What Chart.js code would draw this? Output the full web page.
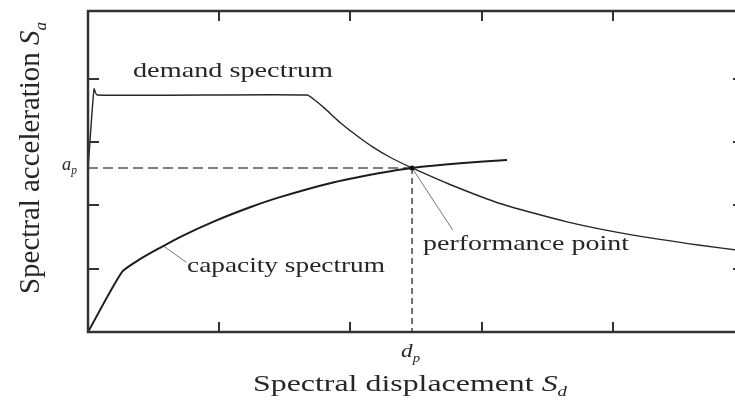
<!DOCTYPE html>
<html lang="en">
  <head>
    <meta charset="UTF-8" />
    <title>Capacity spectrum method</title>
    <style>
      html,
      body {
        margin: 0;
        padding: 0;
        background: #fff;
        overflow: hidden;
        width: 735px;
        height: 403px;
      }
      canvas {
        display: block;
      }
    </style>
    <script src="https://cdn.jsdelivr.net/npm/chart.js"></script>
  </head>
  <body>
    <canvas id="csm" width="760" height="403"></canvas>
    <script>
      // demand spectrum (Sd, Sa)
      const demandSd = [0, 0.046, 0.069, 1.669, 1.73, 1.80, 1.921, 2.05, 2.172, 2.302, 2.47, 2.759, 3.14, 3.651, 4.154, 4.665, 5.0];
      const demandSa = [2.56, 3.84, 3.744, 3.744, 3.66, 3.54, 3.31, 3.10, 2.92, 2.76, 2.591, 2.33, 2.03, 1.74, 1.53, 1.37, 1.28];

      // capacity spectrum
      const capacitySd = [0, 0.259, 0.396, 0.549, 0.701, 0.953, 1.235, 1.463, 1.845, 2.226, 2.47, 2.835, 3.194];
      const capacitySa = [0, 0.948, 1.15, 1.33, 1.5, 1.74, 1.97, 2.13, 2.35, 2.51, 2.591, 2.665, 2.717];

      // performance point (dp, ap)
      const perfPoint = [2.47, 2.591];

      // label leader lines [from, to]
      const capacityLeader = [[0.58, 1.35], [0.75, 1.10]];
      const perfLeader = [[2.48, 2.56], [2.78, 1.61]];

      const xTicks = [1, 2, 3, 4];
      const yTicks = [1, 2, 3, 4];

      const toPts = (xs, ys) => xs.map((x, i) => ({ x: x, y: ys[i] }));
      const ink = "#262626";
      const serif = '"Liberation Serif", "Times New Roman", serif';

      // draw text stretched to a given width (and optional height factor)
      function drawText(ctx, parts, x, y, width, angle, sy) {
        ctx.save();
        let w = 0;
        parts.forEach((p) => {
          ctx.font = p.font;
          w += ctx.measureText(p.t).width;
        });
        ctx.translate(x, y);
        if (angle) ctx.rotate(angle);
        ctx.scale(width / w, sy || 1);
        ctx.fillStyle = ink;
        ctx.textBaseline = "alphabetic";
        let cx = 0;
        parts.forEach((p) => {
          ctx.font = p.font;
          ctx.fillText(p.t, cx, p.dy || 0);
          cx += ctx.measureText(p.t).width;
        });
        ctx.restore();
      }

      const framePlugin = {
        id: "frame",
        afterDatasetsDraw(chart) {
          const ctx = chart.ctx;
          const a = chart.chartArea;
          const xs = chart.scales.x;
          const ys = chart.scales.y;
          ctx.save();
          ctx.strokeStyle = "#333";
          ctx.lineWidth = 2.5;
          ctx.beginPath();
          ctx.rect(a.left, a.top, a.right - a.left, a.bottom - a.top);
          ctx.stroke();
          ctx.lineWidth = 2;
          ctx.beginPath();
          xTicks.forEach((v) => {
            const px = Math.round(xs.getPixelForValue(v));
            ctx.moveTo(px, a.bottom);
            ctx.lineTo(px, a.bottom - 10);
            ctx.moveTo(px, a.top);
            ctx.lineTo(px, a.top + 10);
          });
          yTicks.forEach((v) => {
            const py = Math.round(ys.getPixelForValue(v));
            ctx.moveTo(a.left, py);
            ctx.lineTo(a.left + 11, py);
            ctx.moveTo(a.right, py);
            ctx.lineTo(a.right - 11, py);
          });
          ctx.stroke();

          // performance point marker
          ctx.fillStyle = "#111";
          ctx.beginPath();
          ctx.arc(xs.getPixelForValue(perfPoint[0]), ys.getPixelForValue(perfPoint[1]), 2.5, 0, Math.PI * 2);
          ctx.fill();
          ctx.restore();
        },
        afterDraw(chart) {
          const ctx = chart.ctx;
          const f = (s, it) => (it ? "italic " : "") + s + "px " + serif;
          drawText(ctx, [{ t: "demand spectrum", font: f(20) }], 133, 77, 200, 0, 1.05);
          drawText(ctx, [{ t: "capacity spectrum", font: f(20) }], 187, 272, 198, 0, 1.05);
          drawText(ctx, [{ t: "performance point", font: f(20) }], 423, 250, 206, 0, 1.05);
          drawText(ctx, [{ t: "a", font: f(19, true) }, { t: "p", font: f(12, true), dy: 4 }], 62, 170, 15);
          drawText(ctx, [{ t: "d", font: f(19, true) }, { t: "p", font: f(12, true), dy: 5 }], 401, 357, 19);
          drawText(
            ctx,
            [{ t: "Spectral displacement ", font: f(22) }, { t: "S", font: f(22, true) }, { t: "d", font: f(13, true), dy: 5 }],
            253, 391, 314, 0, 1.05
          );
          drawText(
            ctx,
            [{ t: "Spectral acceleration ", font: f(22) }, { t: "S", font: f(22, true) }, { t: "a", font: f(13, true), dy: 5 }],
            39, 294, 272, -Math.PI / 2, 1.3
          );
        },
      };

      new Chart(document.getElementById("csm").getContext("2d"), {
        type: "line",
        data: {
          datasets: [
            {
              label: "demand spectrum",
              data: toPts(demandSd, demandSa),
              borderColor: ink,
              borderWidth: 1.4,
              tension: 0.2,
              pointRadius: 0,
            },
            {
              label: "capacity spectrum",
              data: toPts(capacitySd, capacitySa),
              borderColor: "#1c1c1c",
              borderWidth: 2,
              tension: 0.2,
              pointRadius: 0,
            },
            {
              label: "ap",
              data: [{ x: 0, y: perfPoint[1] }, { x: perfPoint[0], y: perfPoint[1] }],
              borderColor: "#555",
              borderWidth: 1.5,
              borderDash: [10, 5],
              pointRadius: 0,
            },
            {
              label: "dp",
              data: [{ x: perfPoint[0], y: perfPoint[1] }, { x: perfPoint[0], y: 0 }],
              borderColor: "#444",
              borderWidth: 1.5,
              borderDash: [6, 4],
              pointRadius: 0,
            },
            {
              label: "capacity leader",
              data: capacityLeader.map((p) => ({ x: p[0], y: p[1] })),
              borderColor: "#777",
              borderWidth: 1,
              pointRadius: 0,
            },
            {
              label: "performance leader",
              data: perfLeader.map((p) => ({ x: p[0], y: p[1] })),
              borderColor: "#777",
              borderWidth: 1,
              pointRadius: 0,
            },
          ],
        },
        options: {
          responsive: false,
          animation: false,
          layout: { padding: { left: 88, right: 16, top: 11, bottom: 71 } },
          plugins: { legend: { display: false }, tooltip: { enabled: false } },
          scales: {
            x: { type: "linear", min: 0, max: 5, display: false },
            y: { type: "linear", min: 0, max: 5.07, display: false },
          },
        },
        plugins: [framePlugin],
      });
    </script>
  </body>
</html>
